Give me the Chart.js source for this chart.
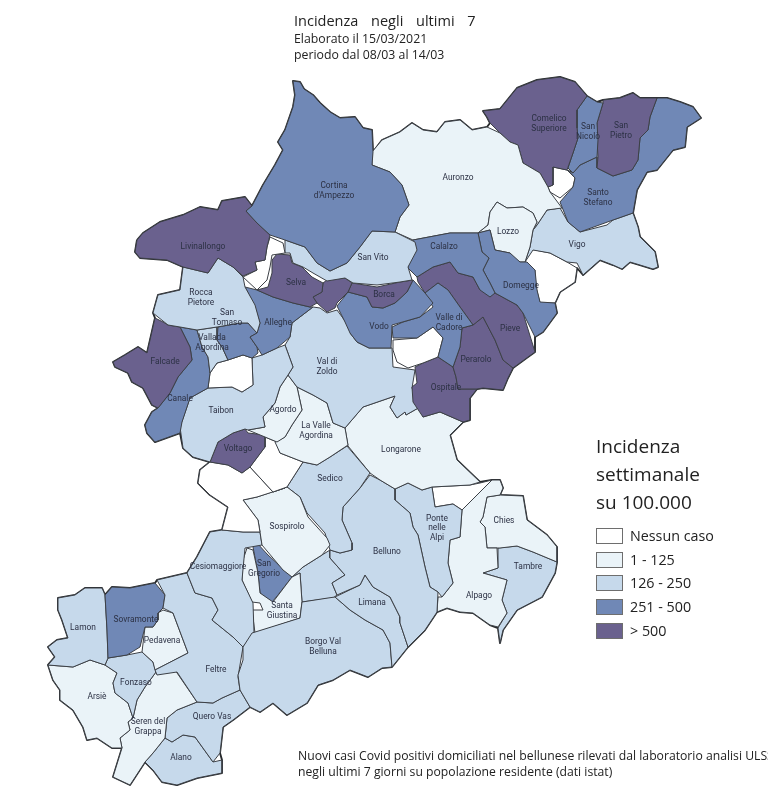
<!DOCTYPE html>
<html>
<head>
<meta charset="utf-8">
<title>Incidenza negli ultimi 7</title>
<script src="https://cdn.jsdelivr.net/npm/chart.js@4"></script>
<style>
  html, body { margin: 0; padding: 0; background: #fff; overflow: hidden; }
  #wrap { position: relative; width: 768px; height: 790px; overflow: hidden; font-family: "Open Sans", "Noto Sans", sans-serif; color: #222; }
  #map { position: absolute; left: 0; top: 0; }
  .txt { position: absolute; white-space: nowrap; }
  .swatch { position: absolute; left: 596px; width: 25px; height: 14px; border: 1px solid #6e6e6e; }
</style>
</head>
<body>
<div id="wrap">
  <canvas id="map" width="768" height="790"></canvas>
  <div class="txt" style="left:294px;top:11px;font-size:14.5px;word-spacing:9px">Incidenza negli ultimi 7</div>
  <div class="txt" style="left:294px;top:30px;font-size:12.3px">Elaborato il 15/03/2021</div>
  <div class="txt" style="left:294px;top:46px;font-size:12.3px">periodo dal 08/03 al 14/03</div>
  <div class="txt" style="left:596px;top:433px;font-size:19px">Incidenza</div>
  <div class="txt" style="left:596px;top:461px;font-size:19px">settimanale</div>
  <div class="txt" style="left:596px;top:489px;font-size:19px">su 100.000</div>
  <div id="legend"></div>
  <div class="txt" style="left:298px;top:747px;font-size:12.2px">Nuovi casi Covid positivi domiciliati nel bellunese rilevati dal laboratorio analisi ULSS</div>
  <div class="txt" style="left:298px;top:763px;font-size:12.2px">negli ultimi 7 giorni su popolazione residente (dati istat)</div>
</div>
<script>
// fasce di incidenza
const bandLabels = ["Nessun caso", "1 - 125", "126 - 250", "251 - 500", "> 500"];
const bandColors = ["#ffffff", "#eaf3f8", "#c6d9eb", "#7088b6", "#6a618e"];

const regionNames = [
  "Cortina", "Livinallongo", "Bianco Colle", "San Vito", "Selva", "Zoppe", "Borca", "Vodo", "Vodo bianco",
  "Valle di Cadore", "Cibiana", "Calalzo", "Domegge", "Pieve", "Perarolo", "Ospitale", "Lozzo", "Auronzo",
  "Comelico Superiore", "San Nicolo", "San Pietro", "Santo Stefano", "Danta", "Vigo", "Lorenzago",
  "Rocca Pietore", "Alleghe", "San Tomaso", "Vallada", "Falcade", "Canale", "Cencenighe", "Taibon", "Val di Zoldo",
  "Agordo", "La Valle", "Voltago", "Gosaldo", "Rivamonte", "Sospirolo", "Sedico", "Longarone", "Belluno",
  "Ponte nelle Alpi", "Soverzene", "Alpago", "Chies", "Tambre", "Limana", "Borgo Val Belluna", "Cesiomaggiore",
  "Santa Giustina", "San Gregorio", "Trichiana", "Feltre", "Sovramonte", "Lamon", "Pedavena", "Fonzaso", "Arsie",
  "Seren", "Quero Vas", "Alano"
];

// indice in bandLabels per ogni comune
const regionBands = [
  3, 4, 0, 2, 4, 4, 4, 3, 0,
  3, 0, 3, 3, 4, 4, 4, 1, 1,
  4, 3, 4, 3, 0, 2, 0,
  2, 3, 3, 2, 4, 3, 0, 2, 2,
  1, 1, 4, 0, 0, 1, 2, 1, 2,
  2, 0, 1, 1, 2, 2, 2, 2,
  1, 3, 2, 2, 3, 2, 1, 2, 1,
  1, 2, 2
];

const regionShapes = [
  [[293,81],[300,82],[304,89],[313,95],[320,103],[330,112],[340,118],[355,117],[363,128],[372,130],[373,152],[372,165],[390,172],[402,185],[409,205],[400,217],[395,232],[372,231],[360,247],[347,263],[330,271],[317,263],[305,247],[285,240],[270,235],[257,223],[246,211],[252,206],[263,185],[275,165],[283,150],[278,142],[285,130],[293,107],[295,95]],
  [[137,240],[143,233],[160,222],[183,215],[200,207],[218,210],[222,201],[245,197],[252,206],[246,211],[257,223],[270,235],[267,247],[265,260],[255,262],[257,270],[243,276],[233,267],[218,258],[208,273],[183,267],[167,260],[140,258],[135,252]],
  [[270,237],[283,243],[285,253],[272,255],[270,267],[267,280],[257,290],[243,277],[257,270],[255,262],[265,260],[267,247]],
  [[285,240],[305,247],[317,263],[330,271],[347,263],[360,247],[372,231],[395,232],[415,242],[417,250],[408,267],[412,280],[400,282],[377,285],[353,283],[345,278],[327,281],[313,273],[303,267],[293,263],[290,253],[285,253]],
  [[277,254],[290,255],[292,263],[302,267],[312,277],[323,283],[322,292],[313,297],[317,303],[310,307],[293,303],[273,297],[257,290],[268,287],[272,273],[272,260]],
  [[323,283],[327,280],[345,278],[352,283],[348,292],[337,303],[335,308],[327,312],[317,303],[313,297],[322,292]],
  [[352,283],[377,287],[400,282],[413,280],[407,292],[395,303],[383,308],[372,307],[367,297],[348,292]],
  [[337,306],[348,292],[367,297],[372,307],[383,308],[395,303],[407,292],[413,280],[425,293],[433,303],[420,317],[392,325],[391,348],[369,348],[357,342],[350,333],[345,322]],
  [[359,327],[368,328],[369,347],[357,342],[350,333]],
  [[392,327],[403,322],[420,317],[433,307],[425,293],[438,283],[448,290],[460,307],[473,325],[462,328],[460,347],[453,367],[438,357],[443,338],[433,327],[417,338],[393,338]],
  [[393,340],[417,338],[433,327],[443,338],[438,357],[423,363],[408,368],[397,362],[393,350]],
  [[413,240],[450,233],[478,233],[482,252],[489,258],[483,270],[490,283],[495,293],[490,297],[480,290],[473,277],[458,273],[450,262],[433,267],[417,277],[408,268],[408,262]],
  [[478,233],[490,230],[495,250],[510,253],[520,262],[527,262],[535,270],[537,290],[540,302],[555,303],[557,313],[543,332],[535,337],[523,313],[517,305],[495,293],[490,283],[483,270],[489,258],[482,252]],
  [[417,277],[433,267],[450,262],[458,273],[473,277],[480,290],[495,293],[517,305],[523,313],[535,352],[528,357],[513,368],[503,360],[495,340],[483,317],[473,325],[460,307],[448,290],[438,283],[425,293],[418,282]],
  [[483,317],[495,340],[503,360],[513,368],[508,378],[503,390],[483,388],[477,389],[458,389],[456,377],[453,367],[460,347],[462,328],[473,325]],
  [[438,357],[453,367],[456,377],[458,389],[477,389],[470,398],[470,420],[463,422],[440,412],[423,417],[413,402],[412,387],[417,383],[415,367],[423,363]],
  [[497,202],[507,208],[523,207],[533,213],[537,222],[533,230],[530,247],[525,262],[515,262],[510,253],[495,250],[490,230],[478,233],[488,225],[490,212]],
  [[372,152],[382,140],[400,132],[412,123],[423,130],[437,132],[445,122],[460,120],[472,130],[487,127],[500,133],[510,142],[518,145],[523,163],[540,173],[548,187],[550,192],[562,208],[547,210],[537,225],[533,230],[537,222],[533,213],[523,207],[507,208],[497,202],[490,212],[488,225],[478,233],[450,233],[413,240],[395,232],[400,217],[409,205],[402,185],[390,172],[372,165]],
  [[483,111],[500,109],[517,88],[537,80],[560,77],[575,82],[587,96],[577,110],[577,128],[578,138],[573,153],[567,170],[553,167],[553,185],[548,187],[540,173],[523,163],[518,145],[510,142],[500,133],[490,123],[487,117]],
  [[587,96],[597,102],[603,103],[597,123],[598,140],[597,157],[580,165],[573,173],[568,168],[573,153],[578,138],[577,128],[577,110]],
  [[603,100],[620,98],[633,93],[640,98],[657,98],[650,117],[648,130],[640,138],[638,160],[632,170],[613,176],[597,168],[598,157],[597,140],[597,123],[603,103]],
  [[657,98],[667,98],[680,102],[693,107],[701,118],[687,127],[685,147],[673,150],[657,170],[647,172],[637,190],[633,213],[613,220],[580,232],[568,222],[560,202],[573,187],[575,178],[568,170],[573,173],[580,165],[597,157],[597,168],[613,176],[632,170],[638,160],[640,138],[648,130],[650,117]],
  [[553,167],[567,170],[575,178],[573,187],[560,198],[550,192],[548,187],[553,185]],
  [[547,210],[560,208],[568,222],[580,232],[607,225],[613,220],[633,213],[638,227],[640,237],[655,252],[658,267],[653,269],[640,265],[630,262],[622,269],[613,265],[600,260],[583,275],[577,263],[567,262],[550,253],[533,250],[525,262],[530,247],[533,230],[537,225]],
  [[525,262],[530,249],[550,253],[567,262],[577,268],[575,282],[560,292],[555,303],[540,303],[535,283],[535,270]],
  [[183,267],[208,273],[218,258],[233,267],[243,277],[245,287],[255,305],[260,323],[257,333],[248,323],[240,323],[217,327],[197,330],[180,327],[168,325],[153,313],[158,295],[180,290]],
  [[245,287],[257,290],[273,297],[293,303],[310,307],[313,307],[292,323],[290,337],[277,348],[262,355],[257,347],[250,337],[257,333],[260,323],[255,307]],
  [[218,327],[240,323],[248,323],[257,333],[250,337],[257,347],[258,353],[252,358],[243,355],[228,360],[222,347],[217,340]],
  [[197,330],[217,327],[217,340],[222,347],[228,360],[217,363],[210,373],[208,357],[202,347]],
  [[155,318],[163,322],[168,325],[180,327],[190,347],[192,360],[178,377],[170,393],[158,408],[152,405],[143,388],[132,382],[128,373],[115,367],[113,362],[125,355],[138,347],[147,353],[150,340]],
  [[180,327],[197,330],[202,347],[208,357],[210,373],[208,388],[190,398],[182,422],[180,433],[155,442],[147,433],[145,425],[152,412],[158,408],[170,393],[178,377],[192,360],[190,347]],
  [[228,360],[243,355],[252,358],[253,385],[242,392],[232,387],[208,388],[210,373],[217,363]],
  [[262,355],[277,348],[285,345],[293,367],[288,375],[280,387],[275,403],[263,417],[265,427],[248,430],[245,429],[233,433],[218,442],[210,462],[193,457],[183,448],[180,427],[190,398],[208,388],[232,387],[242,392],[253,385],[252,358]],
  [[313,307],[320,308],[327,313],[337,310],[348,325],[357,342],[369,348],[392,348],[393,367],[415,370],[412,388],[420,407],[406,415],[405,412],[397,418],[390,407],[395,396],[363,407],[345,428],[333,423],[327,403],[313,395],[297,387],[288,375],[293,367],[285,345],[290,337],[292,323]],
  [[288,375],[297,387],[302,410],[292,425],[285,437],[277,442],[265,437],[248,430],[265,427],[263,417],[275,403],[280,387]],
  [[297,387],[313,395],[327,403],[333,423],[345,428],[348,445],[330,457],[317,465],[303,462],[280,453],[275,442],[285,437],[292,425],[302,410]],
  [[245,429],[248,433],[265,435],[265,447],[250,467],[242,473],[228,465],[210,462],[218,442],[233,433]],
  [[265,437],[277,442],[280,453],[303,462],[287,487],[273,492],[250,467],[265,447]],
  [[210,462],[228,465],[242,473],[250,467],[273,492],[285,488],[257,497],[243,500],[258,520],[260,532],[243,532],[222,530],[228,507],[210,495],[198,483],[200,470]],
  [[243,500],[257,497],[287,487],[300,497],[308,517],[327,538],[330,545],[322,555],[303,567],[292,577],[283,570],[262,545],[260,532],[258,520]],
  [[303,462],[317,465],[330,457],[347,446],[370,473],[360,488],[343,507],[342,520],[352,543],[352,550],[340,553],[330,550],[325,533],[307,513],[300,497],[287,487]],
  [[345,428],[363,407],[395,396],[390,407],[397,418],[405,412],[406,415],[420,407],[423,417],[440,412],[463,422],[450,435],[457,460],[480,482],[470,485],[432,487],[422,490],[408,483],[395,489],[380,480],[370,473],[348,446]],
  [[370,475],[380,480],[395,489],[395,500],[410,513],[413,527],[418,535],[425,567],[430,587],[438,592],[437,612],[425,630],[408,647],[400,623],[400,617],[390,597],[373,587],[365,575],[360,585],[337,595],[332,583],[345,575],[330,558],[330,550],[340,553],[352,550],[352,543],[342,520],[343,507],[360,488]],
  [[395,489],[408,483],[422,490],[432,487],[435,507],[453,504],[462,510],[460,537],[450,540],[448,563],[453,583],[442,597],[438,592],[430,587],[425,567],[418,535],[413,527],[410,513],[395,500]],
  [[432,487],[470,485],[480,483],[492,480],[462,510],[453,504],[435,507]],
  [[492,480],[500,480],[503,488],[500,495],[487,497],[483,517],[480,522],[485,527],[487,548],[497,548],[498,568],[483,573],[507,580],[502,600],[507,613],[498,627],[490,625],[473,613],[460,612],[447,608],[437,612],[438,597],[442,597],[453,583],[448,563],[450,540],[460,537],[462,510]],
  [[487,497],[500,495],[523,496],[527,520],[547,535],[557,547],[557,562],[533,552],[517,546],[500,548],[487,548],[485,527],[480,522],[483,517]],
  [[498,548],[517,546],[533,552],[557,562],[555,573],[542,597],[517,610],[503,630],[500,643],[498,628],[507,613],[502,600],[507,580],[483,573],[498,568]],
  [[335,597],[360,585],[365,575],[373,587],[390,597],[400,617],[400,623],[408,647],[392,667],[390,643],[383,630],[365,620],[350,610]],
  [[243,647],[252,633],[300,618],[302,602],[328,598],[335,597],[350,610],[365,620],[383,630],[390,643],[392,667],[382,668],[368,677],[350,670],[333,680],[318,685],[307,703],[287,715],[273,703],[260,712],[250,707],[240,690],[238,675],[243,660]],
  [[210,532],[222,530],[243,532],[260,532],[262,545],[245,548],[242,580],[253,603],[254,633],[243,647],[233,637],[212,620],[218,610],[212,598],[195,593],[187,573],[197,557]],
  [[243,560],[247,548],[253,550],[258,573],[260,593],[273,602],[292,577],[300,573],[302,602],[300,618],[255,633],[252,610],[263,610],[260,603],[252,602],[242,580]],
  [[253,547],[257,543],[268,555],[292,577],[278,595],[272,602],[260,593],[258,573]],
  [[303,567],[322,555],[330,550],[330,558],[345,575],[332,583],[337,595],[333,598],[317,600],[302,602],[300,573],[292,577]],
  [[157,580],[187,573],[195,593],[212,598],[218,610],[212,620],[233,637],[243,647],[238,677],[240,690],[222,698],[213,703],[197,702],[177,672],[157,675],[155,670],[188,653],[173,613],[163,608],[165,595]],
  [[105,595],[112,587],[130,588],[155,583],[165,595],[163,608],[158,613],[158,620],[153,627],[145,627],[140,647],[127,655],[108,658],[107,630]],
  [[58,598],[75,595],[85,588],[102,588],[105,595],[107,630],[108,658],[105,665],[90,660],[73,667],[48,665],[55,657],[48,647],[57,640],[68,638],[62,620],[58,610]],
  [[163,610],[173,613],[188,653],[155,670],[153,662],[142,652],[145,627],[153,627],[158,620],[158,613]],
  [[108,658],[127,655],[142,652],[153,662],[156,672],[145,687],[137,700],[133,718],[128,703],[115,693],[113,683],[117,673],[105,665]],
  [[48,665],[73,667],[90,660],[105,665],[117,673],[113,683],[115,693],[128,703],[133,718],[128,722],[130,730],[120,738],[122,748],[112,748],[97,738],[87,740],[83,727],[73,710],[60,700],[60,690],[53,680]],
  [[156,672],[175,670],[197,702],[177,710],[167,718],[165,738],[153,753],[145,762],[130,785],[113,777],[122,748],[120,738],[130,730],[128,722],[133,718],[137,700],[145,687]],
  [[197,702],[213,703],[222,698],[240,690],[250,707],[233,720],[223,727],[220,753],[213,762],[195,737],[183,735],[172,742],[165,738],[167,718],[177,710]],
  [[145,762],[153,753],[165,738],[172,742],[183,735],[195,737],[213,762],[222,760],[222,773],[197,778],[177,785],[162,782],[153,770]]
];

// contorno provincia
const outerEdge = [[137,240],[143,233],[160,222],[183,215],[200,207],[218,210],[222,201],[245,197],[252,206],[263,185],[275,165],[283,150],[278,142],[285,130],[293,107],[295,95],[293,81],[300,82],[304,89],[313,95],[320,103],[330,112],[340,118],[355,117],[363,128],[372,130],[373,152],[382,140],[400,132],[412,123],[423,130],[437,132],[445,122],[460,120],[472,130],[487,127],[490,123],[487,117],[483,111],[500,109],[517,88],[537,80],[560,77],[575,82],[587,96],[597,102],[603,100],[620,98],[633,93],[640,98],[657,98],[667,98],[680,102],[693,107],[701,118],[687,127],[685,147],[673,150],[657,170],[647,172],[637,190],[633,213],[638,227],[640,237],[655,252],[658,267],[653,269],[640,265],[630,262],[622,269],[613,265],[600,260],[583,275],[577,268],[575,282],[560,292],[555,303],[557,313],[543,332],[535,337],[535,352],[528,357],[513,368],[508,378],[503,390],[483,388],[477,389],[470,398],[470,420],[463,422],[450,435],[457,460],[480,482],[492,480],[500,480],[503,488],[500,495],[523,496],[527,520],[547,535],[557,547],[557,562],[555,573],[542,597],[517,610],[503,630],[500,643],[498,628],[490,625],[473,613],[460,612],[447,608],[437,612],[425,630],[408,647],[392,667],[382,668],[368,677],[350,670],[333,680],[318,685],[307,703],[287,715],[273,703],[260,712],[250,707],[233,720],[223,727],[220,753],[222,760],[222,773],[197,778],[177,785],[162,782],[153,770],[145,762],[130,785],[113,777],[122,748],[112,748],[97,738],[87,740],[83,727],[73,710],[60,700],[60,690],[53,680],[48,665],[55,657],[48,647],[57,640],[68,638],[62,620],[58,610],[58,598],[75,595],[85,588],[102,588],[105,595],[112,587],[130,588],[155,583],[157,580],[187,573],[197,557],[210,532],[222,530],[228,507],[210,495],[198,483],[200,470],[210,462],[193,457],[183,448],[180,433],[155,442],[147,433],[145,425],[152,412],[158,408],[152,405],[143,388],[132,382],[128,373],[115,367],[113,362],[125,355],[138,347],[147,353],[150,340],[155,318],[153,313],[158,295],[180,290],[183,267],[167,260],[140,258],[135,252]];

const labelTexts = [
  "Comelico\nSuperiore", "San\nNicolò", "San\nPietro", "Auronzo", "Cortina\nd'Ampezzo", "Livinallongo", "Lozzo", "Santo\nStefano", "Vigo", "San Vito",
  "Calalzo", "Domegge", "Selva", "Borca", "Rocca\nPietore", "San\nTomaso", "Alleghe", "Vodo", "Valle di\nCadore", "Vallada\nAgordina",
  "Falcade", "Pieve", "Perarolo", "Ospitale", "Val di\nZoldo", "Canale", "Taibon", "Agordo", "La Valle\nAgordina", "Voltago",
  "Longarone", "Sedico", "Chies", "Tambre", "Alpago", "Ponte\nnelle\nAlpi", "Belluno", "Limana", "Borgo Val\nBelluna", "Sospirolo",
  "Cesiomaggiore", "San\nGregorio", "Santa\nGiustina", "Lamon", "Sovramonte", "Pedavena", "Feltre", "Fonzaso", "Arsiè", "Seren del\nGrappa",
  "Quero Vas", "Alano"
];
const labelSpots = [
  [549,124],[588,132],[621,131],[458,178],[334,191],[203,247],[508,232],[598,198],[577,245],[373,258],
  [444,247],[521,286],[296,283],[384,295],[201,298],[227,318],[278,323],[379,327],[449,323],[212,343],
  [165,362],[510,329],[476,360],[446,388],[327,367],[180,399],[221,411],[283,410],[316,431],[238,449],
  [401,450],[330,479],[504,521],[528,567],[479,596],[437,528],[387,552],[372,603],[323,647],[287,527],
  [218,567],[264,569],[282,611],[83,628],[136,620],[162,641],[216,670],[136,683],[97,697],[148,727],
  [212,717],[181,758]
];

function toPoints(shape) {
  const pts = shape.map(([x, y]) => ({ x, y }));
  pts.push({ x: shape[0][0], y: shape[0][1] });
  return pts;
}

const datasets = regionShapes.map((shape, i) => ({
  label: regionNames[i],
  data: toPoints(shape),
  showLine: true,
  fill: "shape",
  backgroundColor: bandColors[regionBands[i]],
  borderColor: "#3c4046",
  borderWidth: 1,
  borderJoinStyle: "round",
  pointRadius: 0,
  tension: 0
}));

datasets.push({
  label: "Provincia",
  data: toPoints(outerEdge),
  showLine: true,
  fill: false,
  borderColor: "#26292c",
  borderWidth: 1.9,
  borderJoinStyle: "round",
  pointRadius: 0,
  tension: 0
});

const regionLabels = {
  id: "regionLabels",
  afterDatasetsDraw(chart) {
    const { ctx, scales } = chart;
    ctx.save();
    ctx.font = '8.4px Roboto';
    ctx.fillStyle = "#2c3144";
    ctx.textAlign = "center";
    ctx.textBaseline = "middle";
    labelTexts.forEach((text, i) => {
      const lines = text.split("\n");
      const cx = scales.x.getPixelForValue(labelSpots[i][0]);
      const cy = scales.y.getPixelForValue(labelSpots[i][1]);
      lines.forEach((line, k) => {
        ctx.fillText(line, cx, cy + (k - (lines.length - 1) / 2) * 9.5);
      });
    });
    ctx.restore();
  }
};

new Chart(document.getElementById("map"), {
  type: "scatter",
  data: { datasets },
  plugins: [regionLabels],
  options: {
    responsive: false,
    animation: false,
    events: [],
    layout: { padding: 0 },
    plugins: { legend: { display: false }, tooltip: { enabled: false }, title: { display: false } },
    scales: {
      x: { type: "linear", min: 0, max: 768, display: false },
      y: { type: "linear", min: 0, max: 790, reverse: true, display: false }
    }
  }
});

// legenda
const legendTops = [528, 552, 575, 599, 623];
const legendEl = document.getElementById("legend");
bandLabels.forEach((label, i) => {
  const box = document.createElement("div");
  box.className = "swatch";
  box.style.top = legendTops[i] + "px";
  box.style.background = bandColors[i];
  legendEl.appendChild(box);
  const txt = document.createElement("div");
  txt.className = "txt";
  txt.style.left = "630px";
  txt.style.top = (legendTops[i] - 2) + "px";
  txt.style.fontSize = "14.3px";
  txt.textContent = label;
  legendEl.appendChild(txt);
});
</script>
</body>
</html>
